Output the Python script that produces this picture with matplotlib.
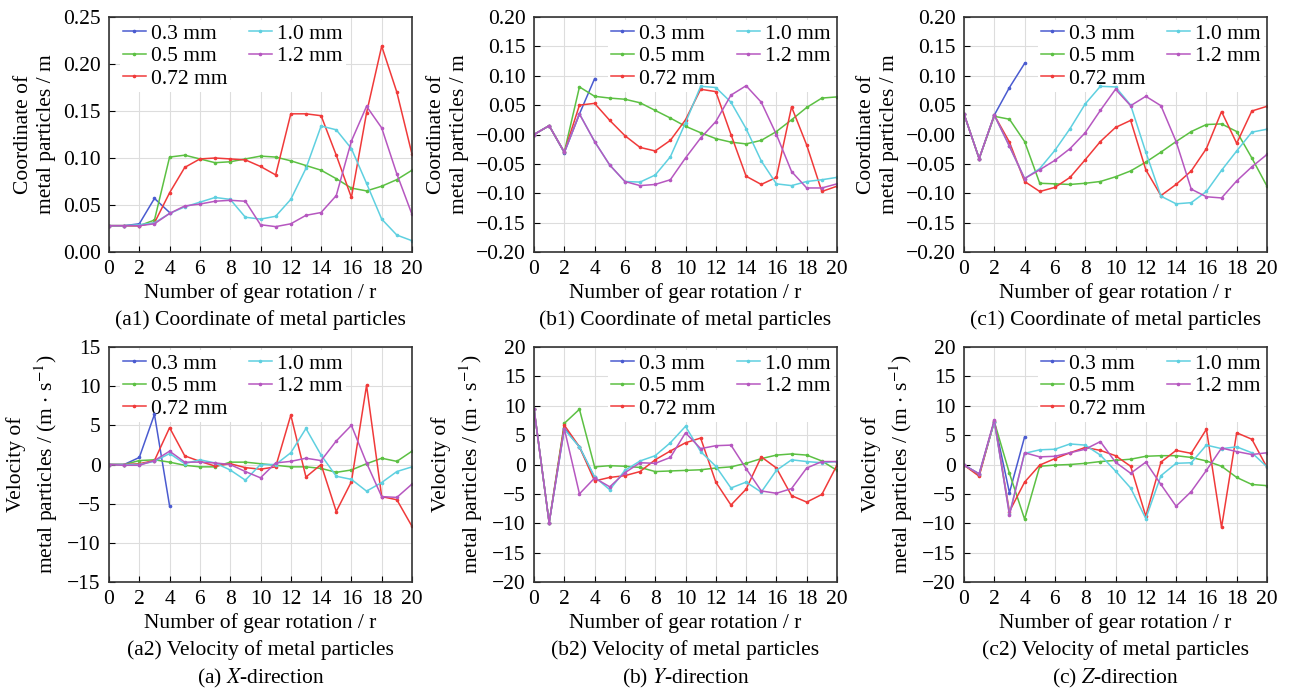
import numpy as np
import matplotlib
matplotlib.use("Agg")
import matplotlib.pyplot as plt

plt.rcParams['font.family'] = ['Liberation Serif', 'DejaVu Serif']
plt.rcParams['mathtext.fontset'] = 'stix'

x = np.arange(21)
x_short = np.arange(5)

sizes = ['0.3 mm', '0.5 mm', '0.72 mm', '1.0 mm', '1.2 mm']
colors = ['#4a5bd0', '#5cc043', '#f03a3a', '#5fd0e0', '#b657c0']

# (a1) X coordinate
a1_03 = [0.028, 0.028, 0.030, 0.057, 0.042]
a1_05 = [0.028, 0.028, 0.028, 0.034, 0.101, 0.103, 0.099, 0.095, 0.096, 0.099, 0.102,
         0.101, 0.097, 0.092, 0.087, 0.078, 0.068, 0.065, 0.070, 0.077, 0.087]
a1_072 = [0.028, 0.028, 0.028, 0.031, 0.063, 0.090, 0.099, 0.100, 0.099, 0.098, 0.091,
          0.082, 0.147, 0.147, 0.145, 0.103, 0.058, 0.148, 0.219, 0.170, 0.104]
a1_10 = [0.028, 0.028, 0.029, 0.031, 0.041, 0.048, 0.053, 0.058, 0.056, 0.037, 0.035,
         0.038, 0.056, 0.089, 0.134, 0.130, 0.110, 0.073, 0.035, 0.018, 0.012]
a1_12 = [0.028, 0.028, 0.028, 0.030, 0.041, 0.049, 0.051, 0.054, 0.055, 0.054, 0.029,
         0.027, 0.030, 0.039, 0.042, 0.060, 0.118, 0.155, 0.132, 0.083, 0.040]

# (b1) Y coordinate
b1_03 = [0.0, 0.015, -0.031, 0.035, 0.095]
b1_05 = [0.0, 0.015, -0.030, 0.081, 0.065, 0.062, 0.060, 0.054, 0.041, 0.028, 0.014,
         0.003, -0.007, -0.013, -0.016, -0.010, 0.005, 0.025, 0.046, 0.062, 0.064]
b1_072 = [0.0, 0.015, -0.030, 0.050, 0.053, 0.024, -0.002, -0.022, -0.028, -0.010, 0.025,
          0.077, 0.073, 0.0, -0.071, -0.085, -0.073, 0.047, -0.018, -0.097, -0.088]
b1_10 = [0.0, 0.015, -0.030, 0.035, -0.012, -0.052, -0.080, -0.081, -0.069, -0.038, 0.020,
         0.082, 0.080, 0.055, 0.010, -0.045, -0.084, -0.087, -0.080, -0.077, -0.073]
b1_12 = [0.0, 0.015, -0.030, 0.035, -0.012, -0.052, -0.080, -0.087, -0.085, -0.077, -0.040,
         -0.006, 0.022, 0.067, 0.083, 0.055, 0.000, -0.063, -0.091, -0.091, -0.084]

# (c1) Z coordinate
c1_03 = [0.035, -0.041, 0.033, 0.080, 0.121]
c1_05 = [0.035, -0.041, 0.031, 0.026, -0.012, -0.083, -0.084, -0.085, -0.083, -0.080, -0.072,
         -0.062, -0.047, -0.030, -0.012, 0.005, 0.017, 0.018, 0.005, -0.040, -0.088]
c1_072 = [0.035, -0.041, 0.033, -0.013, -0.080, -0.097, -0.090, -0.073, -0.043, -0.012, 0.012,
          0.024, -0.060, -0.104, -0.085, -0.062, -0.024, 0.039, -0.015, 0.040, 0.048]
c1_10 = [0.035, -0.041, 0.033, -0.020, -0.075, -0.058, -0.027, 0.010, 0.052, 0.082, 0.081,
         0.050, -0.030, -0.105, -0.118, -0.116, -0.097, -0.061, -0.028, 0.004, 0.009]
c1_12 = [0.035, -0.041, 0.033, -0.020, -0.075, -0.060, -0.044, -0.024, 0.003, 0.041, 0.077,
         0.049, 0.065, 0.049, -0.012, -0.093, -0.106, -0.108, -0.079, -0.055, -0.034]

# (a2) X velocity
a2_03 = [0, 0, 0.9, 6.4, -5.3]
a2_05 = [0, 0, 0.5, 0.6, 0.3, -0.1, -0.3, -0.3, 0.3, 0.3, 0.1,
         -0.1, -0.3, -0.3, -0.5, -1.0, -0.7, 0.1, 0.8, 0.4, 1.7]
a2_072 = [0, 0, 0.1, 0.5, 4.7, 1.1, 0.4, -0.2, 0.1, -0.4, -0.6,
          -0.3, 6.3, -1.6, 0.0, -6.0, -2.2, 10.1, -4.1, -4.5, -7.9]
a2_10 = [0, 0, 0, 0.4, 1.4, 0.1, 0.6, 0.2, -0.7, -2.0, 0.0,
         0.0, 1.5, 4.6, 1.2, -1.5, -1.9, -3.4, -2.3, -0.9, -0.3]
a2_12 = [0, -0.1, -0.1, 0.5, 1.7, 0.3, 0.3, 0.2, 0.0, -0.9, -1.7,
         0.2, 0.4, 0.8, 0.5, 3.0, 5.0, 0.2, -4.1, -4.2, -2.5]

# (b2) Y velocity
b2_03 = [9.5, -9.9, 6.2, 3.0, -2.2]
b2_05 = [9.5, -9.9, 7.0, 9.4, -0.4, -0.2, -0.3, -0.5, -1.2, -1.1, -1.0,
         -0.9, -0.6, -0.4, 0.2, 1.0, 1.6, 1.8, 1.6, 0.6, -1.0]
b2_072 = [9.5, -9.9, 6.7, 3.0, -2.8, -2.2, -1.9, -1.2, 0.8, 2.3, 3.7,
          4.5, -3.0, -6.9, -4.2, 1.3, -0.6, -5.3, -6.4, -5.1, -0.1]
b2_10 = [9.5, -9.9, 6.0, 3.0, -2.1, -4.3, -1.0, 0.6, 1.5, 3.7, 6.5,
         2.2, -0.3, -4.0, -3.0, -4.7, -1.0, 0.8, 0.5, 0.3, 0.5]
b2_12 = [9.5, -9.9, 6.1, -5.0, -2.3, -3.8, -1.4, 0.3, 0.2, 1.2, 5.4,
         2.7, 3.2, 3.3, -0.7, -4.5, -4.9, -4.1, -0.6, 0.5, 0.5]

# (c2) Z velocity
c2_03 = [-0.1, -1.6, 7.3, -4.8, 4.7]
c2_05 = [-0.1, -1.8, 7.3, -1.5, -9.3, -0.3, -0.1, 0.0, 0.2, 0.5, 0.7,
         0.9, 1.4, 1.5, 1.5, 1.2, 0.6, -0.3, -2.2, -3.4, -3.6]
c2_072 = [-0.1, -2.0, 7.4, -8.0, -3.0, -0.1, 1.0, 2.0, 2.9, 2.4, 1.5,
          -0.3, -8.8, 0.4, 2.4, 1.9, 6.0, -10.7, 5.4, 4.3, -0.5]
c2_10 = [-0.1, -1.6, 7.3, -8.4, 1.9, 2.5, 2.6, 3.5, 3.3, 1.6, -1.1,
         -4.0, -9.2, -1.9, 0.2, 0.3, 3.3, 2.7, 3.0, 2.0, -0.4]
c2_12 = [-0.1, -1.6, 7.6, -8.6, 2.0, 1.3, 1.4, 2.0, 2.6, 3.9, 0.4,
         -1.5, 0.4, -3.4, -7.1, -4.6, -1.0, 2.8, 2.2, 1.7, 2.0]

coord_label = 'Coordinate of\nmetal particles / m'
vel_label = 'Velocity of\nmetal particles / (m $\\cdot$ s$^{-1}$)'

panels = [
    ([a1_03, a1_05, a1_072, a1_10, a1_12], (0, 0.25), np.arange(0, 0.251, 0.05), '{:.2f}',
     coord_label, '(a1) Coordinate of metal particles', 'upper left'),
    ([b1_03, b1_05, b1_072, b1_10, b1_12], (-0.2, 0.2), np.arange(-0.2, 0.201, 0.05), '{:.2f}',
     coord_label, '(b1) Coordinate of metal particles', 'upper right'),
    ([c1_03, c1_05, c1_072, c1_10, c1_12], (-0.2, 0.2), np.arange(-0.2, 0.201, 0.05), '{:.2f}',
     coord_label, '(c1) Coordinate of metal particles', 'upper right'),
    ([a2_03, a2_05, a2_072, a2_10, a2_12], (-15, 15), np.arange(-15, 16, 5), '{:.0f}',
     vel_label, '(a2) Velocity of metal particles', 'upper left'),
    ([b2_03, b2_05, b2_072, b2_10, b2_12], (-20, 20), np.arange(-20, 21, 5), '{:.0f}',
     vel_label, '(b2) Velocity of metal particles', 'upper right'),
    ([c2_03, c2_05, c2_072, c2_10, c2_12], (-20, 20), np.arange(-20, 21, 5), '{:.0f}',
     vel_label, '(c2) Velocity of metal particles', 'upper right'),
]

W, H = 1289, 689
fig = plt.figure(figsize=(W / 100, H / 100), dpi=100)

lefts = [109, 534, 964]
tops = [17, 347]
aw, ah = 303, 235
fs = 15.5

bottom_titles = ['(a) ', '(b) ', '(c) ']
dirs = ['X', 'Y', 'Z']

for i, (series, ylim, yticks, fmt, ylabel, caption, loc) in enumerate(panels):
    r, c = divmod(i, 3)
    ax = fig.add_axes([lefts[c] / W, 1 - (tops[r] + ah) / H, aw / W, ah / H])
    for s, data, col in zip(sizes, series, colors):
        xs = x_short if len(data) == 5 else x
        ax.plot(xs, data, color=col, lw=1.1, marker='o', ms=1.6, label=s, zorder=3)
    ax.set_xlim(0, 20)
    ax.set_ylim(*ylim)
    ax.set_xticks(np.arange(0, 21, 2))
    ax.set_yticks(yticks)
    ax.set_yticklabels([fmt.format(v).replace('-', '\u2212') for v in yticks])
    ax.tick_params(direction='in', labelsize=fs, length=4, width=0.8, pad=6)
    ax.grid(True, color='#dddddd', lw=0.8)
    ax.set_axisbelow(True)
    for sp in ax.spines.values():
        sp.set_linewidth(1.2)
        sp.set_color('#333333')
        sp.set_zorder(4)
    ax.set_xlabel('Number of gear rotation / r', fontsize=fs, labelpad=3)
    ax.set_ylabel(ylabel, fontsize=fs, labelpad=5, linespacing=1.3)
    anchor = (0.025, 1.0) if loc == 'upper left' else (1.0, 1.0)
    leg = ax.legend(loc=loc, bbox_to_anchor=anchor, ncol=2, fontsize=fs, frameon=True,
                    fancybox=False, edgecolor='none', framealpha=1, borderpad=0.15,
                    borderaxespad=0.15, handlelength=1.05, handletextpad=0.25,
                    columnspacing=1.0, labelspacing=0.12)
    leg.set_zorder(2.5)
    cx = (lefts[c] + aw / 2) / W
    if r == 0:
        fig.text(cx, 1 - 320 / H, caption, ha='center', va='center', fontsize=fs)
    else:
        fig.text(cx, 1 - 650 / H, caption, ha='center', va='center', fontsize=fs)
        fig.text(cx, 1 - 678 / H, bottom_titles[c] + '$\\mathit{' + dirs[c] + '}$-direction',
                 ha='center', va='center', fontsize=fs)

fig.savefig('out.png', dpi=100)
